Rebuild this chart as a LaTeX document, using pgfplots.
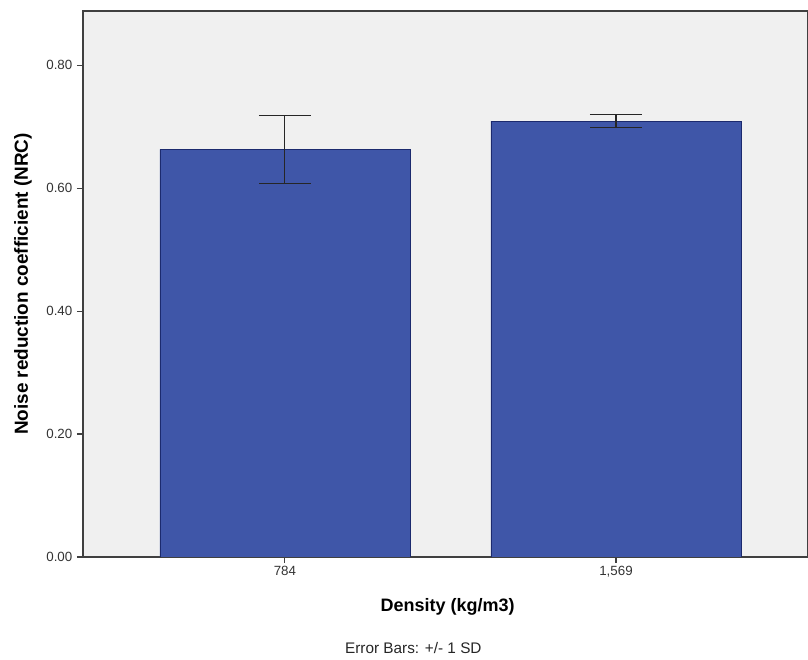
\documentclass[border=0pt]{standalone}
\usepackage{pgfplots}
\pgfplotsset{compat=1.18}
\usepackage{fontspec}
\setmainfont{Liberation Sans}
\definecolor{barblue}{HTML}{3F56A8}
\definecolor{baredge}{HTML}{1C2A6E}
\definecolor{bgcol}{HTML}{F0F0F0}
\begin{document}
\begin{tikzpicture}[x=1pt,y=1pt]
\begin{axis}[
  at={(62.25pt,77.25pt)}, anchor=south west,
  scale only axis, width=543.75pt, height=409.5pt,
  xmin=-0.61, xmax=1.58, ymin=0, ymax=0.888,
  axis background/.style={fill=bgcol},
  axis line style={draw=black!75, line width=0.8pt},
  xtick={0,1}, xticklabels={784,{1,569}},
  ytick={0,0.2,0.4,0.6,0.8},
  yticklabel style={/pgf/number format/.cd, fixed, fixed zerofill, precision=2},
  /pgf/number format/assume math mode=true,
  tick align=outside, xtick pos=bottom, ytick pos=left,
  major tick length=4.5pt,
  tick style={black!75, line width=0.8pt},
  ticklabel style={font=\fontsize{10}{12}\selectfont, text=black!80},
  xticklabel style={yshift=1pt},
  xlabel={\textbf{Density (kg/m3)}},
  ylabel={\textbf{Noise reduction coefficient (NRC)}},
  xlabel style={font=\fontsize{13.5}{16}\selectfont, at={(axis description cs:0.503,-0.0916)}, anchor=center},
  ylabel style={font=\fontsize{14.2}{16}\selectfont, at={(axis description cs:-0.0828,0.5)}, anchor=center},
  ]
\addplot[ybar, bar width=187.5pt, fill=barblue, draw=baredge, line width=0.6pt,
  error bars/.cd, y dir=both, y explicit,
  error bar style={black!85, line width=0.8pt},
  error mark options={black!85, line width=0.8pt, mark size=19.5pt, rotate=90}]
  coordinates {(0,0.663) +- (0,0.055) (1,0.709) +- (0,0.011)};
\end{axis}
\node[font=\fontsize{11.5}{13}\selectfont, text=black!85] at (310pt,9pt) {Error Bars: +/- 1 SD};
\pgfresetboundingbox
\path[use as bounding box] (0,0) rectangle (606pt,495pt);
\end{tikzpicture}
\end{document}
